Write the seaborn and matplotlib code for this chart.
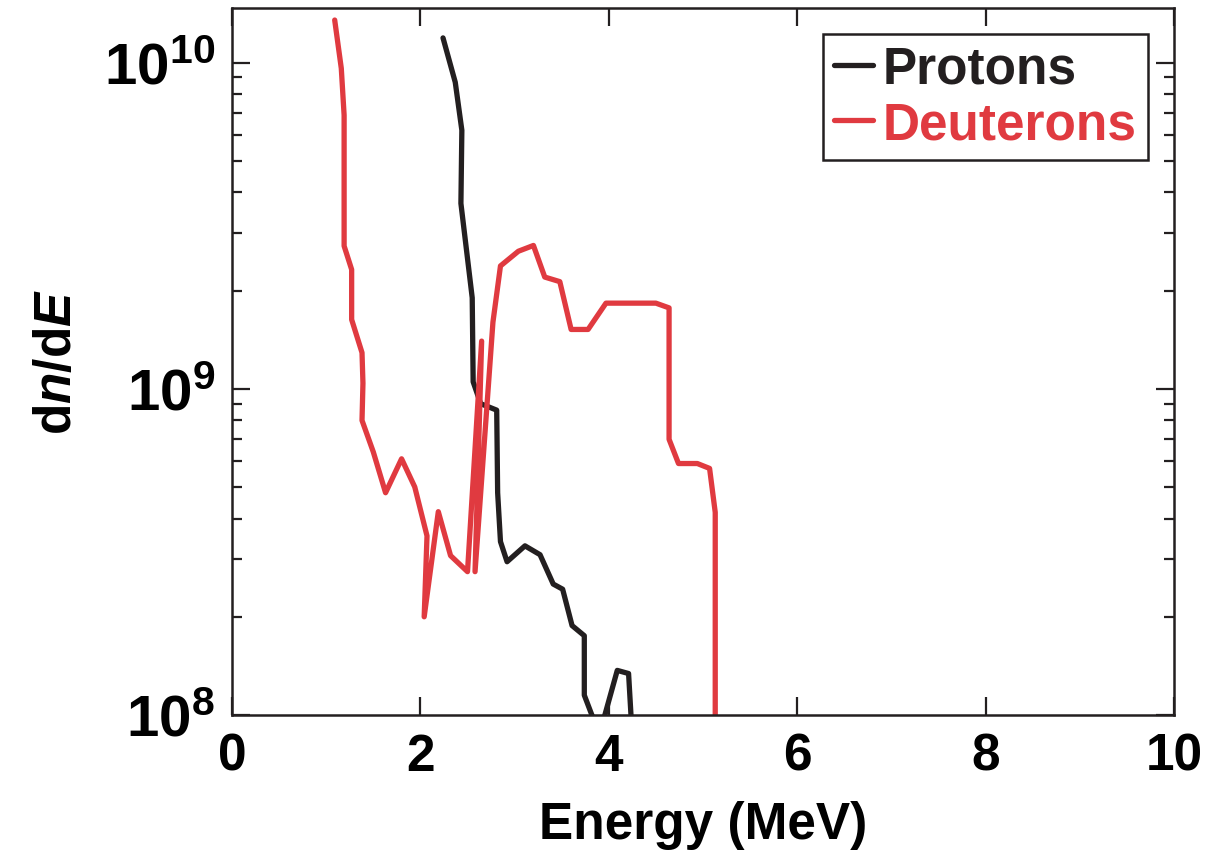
import numpy as np
import pandas as pd
import matplotlib
matplotlib.use("Agg")
import matplotlib.pyplot as plt
import seaborn as sns
from matplotlib.ticker import LogLocator, NullFormatter, FixedLocator

# Protons
proton_energy = [2.24, 2.37, 2.44, 2.43, 2.55, 2.56, 2.64, 2.81, 2.82, 2.85, 2.92,
                 3.11, 3.27, 3.41, 3.51, 3.61, 3.74, 3.74, 3.90, 4.09, 4.21, 4.28]
proton_dnde = [1.19e10, 8.7e9, 6.2e9, 3.7e9, 1.9e9, 1.05e9, 9.0e8, 8.6e8, 4.8e8, 3.4e8, 2.95e8,
               3.3e8, 3.1e8, 2.52e8, 2.43e8, 1.88e8, 1.75e8, 1.15e8, 8.7e7, 1.37e8, 1.34e8, 6e7]

# Deuterons
deut_energy = [1.09, 1.16, 1.19, 1.19, 1.27, 1.27, 1.38, 1.39, 1.38, 1.50, 1.63, 1.80, 1.94,
               2.07, 2.04, 2.19, 2.32, 2.50, 2.65, 2.58, 2.77, 2.85, 3.04, 3.20, 3.32, 3.48,
               3.60, 3.78, 3.97, 4.50, 4.64, 4.64, 4.74, 4.94, 5.07, 5.13, 5.13]
deut_dnde = [1.35e10, 9.6e9, 6.9e9, 2.74e9, 2.32e9, 1.63e9, 1.29e9, 1.04e9, 8.0e8, 6.4e8, 4.8e8,
             6.1e8, 5.0e8, 3.54e8, 2.0e8, 4.2e8, 3.08e8, 2.75e8, 1.4e9, 2.75e8, 1.6e9, 2.38e9,
             2.64e9, 2.75e9, 2.2e9, 2.13e9, 1.52e9, 1.52e9, 1.83e9, 1.83e9, 1.77e9, 7.0e8,
             5.9e8, 5.9e8, 5.7e8, 4.18e8, 1e7]

species = ["Protons", "Deuterons"]
colors = {"Protons": "#231F20", "Deuterons": "#E03A40"}

df = pd.concat([
    pd.DataFrame({"E": proton_energy, "dnde": proton_dnde, "species": "Protons"}),
    pd.DataFrame({"E": deut_energy, "dnde": deut_dnde, "species": "Deuterons"}),
], ignore_index=True)

sns.set_style("ticks")
plt.rcParams["font.family"] = ["Liberation Sans", "DejaVu Sans"]
plt.rcParams["font.weight"] = "bold"
plt.rcParams["text.color"] = "black"
plt.rcParams["axes.labelcolor"] = "black"
plt.rcParams["xtick.color"] = "black"
plt.rcParams["ytick.color"] = "black"
plt.rcParams["mathtext.fontset"] = "custom"
plt.rcParams["mathtext.rm"] = "Liberation Sans:bold"
plt.rcParams["mathtext.bf"] = "Liberation Sans:bold"
plt.rcParams["mathtext.it"] = "Liberation Sans:bold:italic"

fig = plt.figure(figsize=(12.11, 8.54), dpi=100)
ax = fig.add_axes([0.1916, 0.1616, 0.7778, 0.8279])

sns.lineplot(data=df, x="E", y="dnde", hue="species", hue_order=species,
             palette=colors, sort=False, estimator=None, linewidth=3.8, ax=ax)

ax.set_yscale("log")
ax.set_xlim(0, 10)
ax.set_ylim(1e8, 1.47e10)

ax.set_xticks([0, 2, 4, 6, 8, 10])
ax.set_xticklabels(["0", "2", "4", "6", "8", "10"])
ax.yaxis.set_major_locator(FixedLocator([1e8, 1e9, 1e10]))
ax.set_yticklabels([r"$\mathbf{10^{8}}$", r"$\mathbf{10^{9}}$", r"$\mathbf{10^{10}}$"])
ax.yaxis.set_minor_locator(LogLocator(base=10, subs=np.arange(2, 10)))
ax.yaxis.set_minor_formatter(NullFormatter())

ax.tick_params(axis="both", which="major", direction="in", length=13, width=1.6,
               top=True, right=True, labelsize=37, color="#231F20", labelcolor="black")
ax.tick_params(axis="y", which="minor", direction="in", length=7, width=1.6,
               left=True, right=True, color="#231F20")
ax.tick_params(axis="x", which="major", pad=12)
ax.tick_params(axis="y", which="major", pad=12, labelsize=42)

for s in ax.spines.values():
    s.set_linewidth(1.8)
    s.set_color("#231F20")

ax.set_xlabel("Energy (MeV)", fontsize=37, fontweight="bold", labelpad=14, color="black")
ax.set_ylabel(r"d$\mathit{n}$/d$\mathit{E}$", fontsize=37, fontweight="bold", labelpad=16,
              color="black")

leg = ax.legend(loc="upper right", frameon=True, fancybox=False,
                handlelength=0.75, handletextpad=0.2, borderpad=0.22,
                labelspacing=0.12, borderaxespad=0.5, labelcolor="linecolor",
                prop={"weight": "bold", "size": 37})
leg.get_frame().set_edgecolor("#231F20")
leg.get_frame().set_linewidth(1.8)
leg.get_frame().set_alpha(1)
for line in leg.get_lines():
    line.set_linewidth(3.8)

fig.savefig("out.png", dpi=100)
